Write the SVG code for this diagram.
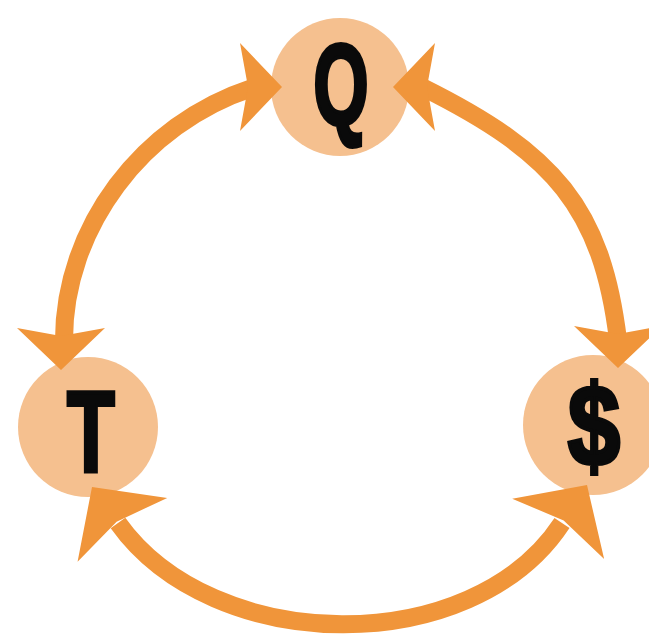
<svg xmlns="http://www.w3.org/2000/svg" width="649" height="638" viewBox="0 0 649 638">
<style>
.node{fill:#F5C08F}
.lbl{font-family:"Liberation Sans",Arial,sans-serif;font-weight:bold;font-size:115px;fill:#0a0a0a;stroke:#0a0a0a;stroke-width:4;stroke-linejoin:miter;text-anchor:middle}
.shaft{fill:none;stroke:#F0953A;stroke-width:18}
.head{fill:#F0953A}
</style>
<defs>
<path id="ah" d="M0,0 L-42,-44 L-34,0 L-42,44 Z"/>
</defs>
<rect width="649" height="638" fill="#FFFFFF"/>
<g id="node-Q">
<circle class="node" cx="340" cy="87" r="69"/>
<text class="lbl" transform="translate(341,124) scale(0.62,1)">Q</text>
</g>
<g id="node-T">
<circle class="node" cx="88" cy="427" r="70"/>
<text class="lbl" transform="translate(91,471) scale(0.68,1)">T</text>
</g>
<g id="node-S">
<circle class="node" cx="593" cy="425" r="70"/>
<text class="lbl" transform="translate(594,465) scale(0.82,1)">$</text>
</g>
<g id="connectors">
<path class="shaft" d="M252,88 C142,124 64,228 64,340"/>
<path class="shaft" d="M424,88 C554,153 602,208 618,340"/>
<path class="shaft" d="M118,523 C213,656 472,660 562,523"/>
<use href="#ah" class="head" transform="translate(282,87)"/>
<use href="#ah" class="head" transform="translate(393,87) rotate(180)"/>
<use href="#ah" class="head" transform="translate(61,370) rotate(90)"/>
<use href="#ah" class="head" transform="translate(618,368) rotate(90)"/>
<use href="#ah" class="head" transform="translate(92,487) rotate(-125.4) scale(1.25)"/>
<use href="#ah" class="head" transform="translate(587,485) rotate(-56.7) scale(1.25)"/>
</g>
</svg>
